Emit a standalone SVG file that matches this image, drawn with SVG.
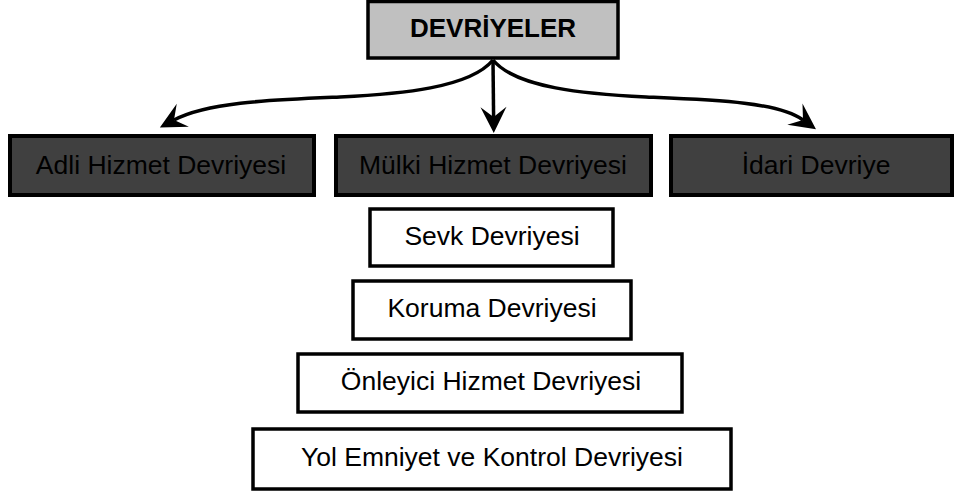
<svg xmlns="http://www.w3.org/2000/svg" width="955" height="492" viewBox="0 0 955 492">
<style>
text{font-family:"Liberation Sans",Arial,sans-serif;font-size:26.5px;fill:#000;text-anchor:middle}
.title{font-weight:bold;font-size:26px}
.top{fill:#c0c0c0;stroke:#000;stroke-width:3.5}
.dark{fill:#404040;stroke:#000;stroke-width:4}
.light{fill:#fff;stroke:#000;stroke-width:3.5}
.conn{fill:none;stroke:#000;stroke-width:3.5}
</style>
<defs>
<marker id="ah" markerUnits="userSpaceOnUse" orient="auto" viewBox="-12 -15 30 30" refX="0" refY="0" markerWidth="30" markerHeight="30">
<path d="M16,0 L-10,-13 L0,0 L-10,13 Z" fill="#000"/>
</marker>
</defs>
<g id="connectors">
<path class="conn" d="M493,60 C470,88 400,94 340,97 C270,100 208,102 174,120" marker-end="url(#ah)"/>
<path class="conn" d="M493,60 L493.6,117" marker-end="url(#ah)"/>
<path class="conn" d="M493,60 C516,88 586,94 646,97 C716,100 778,102 803,120" marker-end="url(#ah)"/>
</g>
<g id="devriyeler"><rect class="top" x="368" y="1.5" width="250" height="56.5"/><text class="title" x="493" y="37">DEVRİYELER</text></g>
<g id="adli"><rect class="dark" x="10" y="136" width="304" height="59"/><text x="161" y="174">Adli Hizmet Devriyesi</text></g>
<g id="mulki"><rect class="dark" x="336" y="136" width="315" height="59"/><text x="493" y="174">Mülki Hizmet Devriyesi</text></g>
<g id="idari"><rect class="dark" x="671" y="136" width="281" height="59"/><text x="816" y="174">İdari Devriye</text></g>
<g id="sevk"><rect class="light" x="370" y="209" width="243" height="57"/><text x="492" y="245">Sevk Devriyesi</text></g>
<g id="koruma"><rect class="light" x="353" y="281" width="278" height="58"/><text x="492" y="317">Koruma Devriyesi</text></g>
<g id="onleyici"><rect class="light" x="298" y="354" width="384" height="58"/><text x="491" y="390">Önleyici Hizmet Devriyesi</text></g>
<g id="yol"><rect class="light" x="253" y="429" width="478" height="60"/><text x="492" y="466">Yol Emniyet ve Kontrol Devriyesi</text></g>
</svg>
